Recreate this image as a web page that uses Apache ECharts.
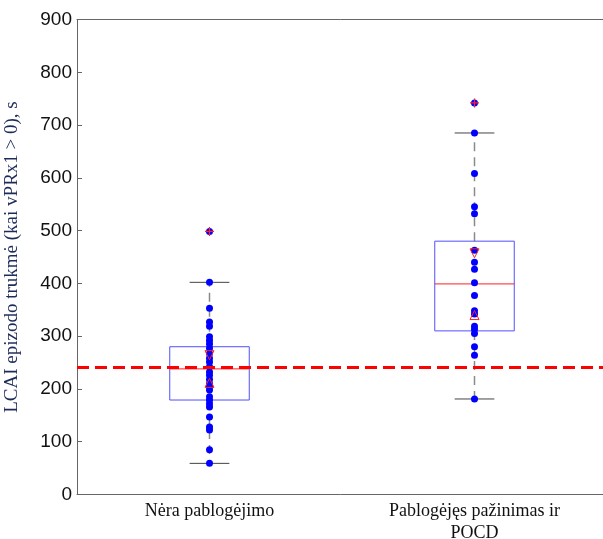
<!DOCTYPE html>
<html>
<head>
<meta charset="utf-8">
<script src="https://cdn.jsdelivr.net/npm/echarts@6/dist/echarts.min.js"></script>
<style>html,body{margin:0;padding:0;background:#fff;}#c{width:603px;height:539px;}</style>
</head>
<body>
<div id="c"></div>
<script>
const categories = ['Nėra pablogėjimo', 'Pablogėjęs pažinimas ir\nPOCD'];
const yTicks = [0, 100, 200, 300, 400, 500, 600, 700, 800, 900];
// box stats: [lower whisker, Q1, median, Q3, upper whisker]
const boxGroup1 = [59, 179, 238, 280, 402];
const boxGroup2 = [181, 310, 399, 480, 685];
// notch markers: [upper notch, lower notch]
const notchGroup1 = [264, 211.5];
const notchGroup2 = [457, 340];
const outliersGroup1 = [498.5];
const outliersGroup2 = [742];
const pointsGroup1 = [498.5, 402, 353, 327, 319, 299, 292, 285, 277, 267, 258, 251, 242, 232, 226, 218, 210, 204, 198, 185, 179, 172, 166, 147, 128, 122, 85, 59];
const pointsGroup2 = [742, 685, 608, 545, 532, 463, 440, 427, 401, 377, 348, 342, 319, 313, 305, 280, 264, 181];
const referenceValue = 241;

const boxData = [[0].concat(boxGroup1), [1].concat(boxGroup2)];
const dotData = pointsGroup1.map(v => [0, v]).concat(pointsGroup2.map(v => [1, v]));
const notchDown = [[0, notchGroup1[0]], [1, notchGroup2[0]]];
const notchUp = [[0, notchGroup1[1]], [1, notchGroup2[1]]];
const outlierData = outliersGroup1.map(v => [0, v]).concat(outliersGroup2.map(v => [1, v]));

const chart = echarts.init(document.getElementById('c'), null, {renderer: 'canvas'});

function renderBox(params, api) {
  const idx = api.value(0);
  const lw = api.coord([idx, api.value(1)]);
  const q1 = api.coord([idx, api.value(2)]);
  const md = api.coord([idx, api.value(3)]);
  const q3 = api.coord([idx, api.value(4)]);
  const hw = api.coord([idx, api.value(5)]);
  const band = api.size([1, 0])[0];
  const bw = band * 0.15;
  const cw = band * 0.075;
  const x = q1[0];
  return {
    type: 'group',
    children: [
      {type: 'line', shape: {x1: x, y1: q3[1], x2: x, y2: hw[1]}, style: {stroke: '#8a8a8a', lineWidth: 1.5, lineDash: [9, 6]}},
      {type: 'line', shape: {x1: x, y1: q1[1], x2: x, y2: lw[1]}, style: {stroke: '#8a8a8a', lineWidth: 1.5, lineDash: [9, 6]}},
      {type: 'line', shape: {x1: x - cw, y1: hw[1], x2: x + cw, y2: hw[1]}, style: {stroke: '#444', lineWidth: 1}},
      {type: 'line', shape: {x1: x - cw, y1: lw[1], x2: x + cw, y2: lw[1]}, style: {stroke: '#444', lineWidth: 1}},
      {type: 'rect', shape: {x: x - bw, y: q3[1], width: 2 * bw, height: q1[1] - q3[1]}, style: {stroke: '#5050ff', fill: 'none', lineWidth: 1}},
      {type: 'line', shape: {x1: x - bw, y1: md[1], x2: x + bw, y2: md[1]}, style: {stroke: '#ff2020', lineWidth: 1}}
    ]
  };
}

chart.setOption({
  animation: false,
  grid: {left: 77, top: 19.5, width: 530, height: 475, containLabel: false, outerBoundsMode: 'none', show: false},
  xAxis: [{
    type: 'category',
    data: categories,
    boundaryGap: true,
    axisLine: {lineStyle: {color: '#666'}},
    axisTick: {inside: true, alignWithLabel: true, length: 5, lineStyle: {color: '#666'}},
    axisLabel: {fontFamily: 'Liberation Serif', fontSize: 18, color: '#111', margin: 6, lineHeight: 22}
  }, {
    type: 'category',
    data: categories,
    position: 'top',
    boundaryGap: true,
    axisLine: {show: true, lineStyle: {color: '#666'}},
    axisTick: {show: false},
    axisLabel: {show: false}
  }],
  yAxis: {
    type: 'value',
    min: yTicks[0],
    max: yTicks[yTicks.length - 1],
    interval: 100,
    splitLine: {show: false},
    axisLine: {show: true, lineStyle: {color: '#666'}},
    axisTick: {show: true, inside: true, length: 5, lineStyle: {color: '#666'}},
    axisLabel: {fontFamily: 'Liberation Sans', fontSize: 19, color: '#111', margin: 5},
    name: 'LCAI epizodo trukmė (kai vPRx1 > 0), s',
    nameLocation: 'middle',
    nameRotate: 90,
    nameGap: 55,
    nameTextStyle: {fontFamily: 'Liberation Serif', fontSize: 19, color: '#1c2b5a'}
  },
  series: [
    {
      type: 'custom',
      renderItem: renderBox,
      data: boxData,
      encode: {x: 0, y: [1, 2, 3, 4, 5]},
      z: 2,
      markLine: {
        silent: true,
        symbol: 'none',
        label: {show: false},
        lineStyle: {color: '#ff0000', type: [12, 6], width: 3},
        data: [{yAxis: referenceValue}]
      }
    },
    {
      type: 'scatter',
      data: dotData,
      symbol: 'circle',
      symbolSize: 7,
      itemStyle: {color: '#0000ff', opacity: 1},
      z: 3
    },
    {
      type: 'scatter',
      data: notchDown,
      symbol: 'triangle',
      symbolRotate: 180,
      symbolSize: 9,
      itemStyle: {color: 'none', borderColor: '#ff2020', borderWidth: 1, opacity: 1},
      z: 4
    },
    {
      type: 'scatter',
      data: notchUp,
      symbol: 'triangle',
      symbolSize: 9,
      itemStyle: {color: 'none', borderColor: '#ff2020', borderWidth: 1, opacity: 1},
      z: 4
    },
    {
      type: 'scatter',
      data: outlierData,
      symbol: 'path://M5,0L5,10M0,5L10,5',
      symbolSize: 9,
      itemStyle: {color: 'none', borderColor: '#ff2020', borderWidth: 1.2, opacity: 1},
      z: 5
    }
  ]
});
</script>
</body>
</html>
